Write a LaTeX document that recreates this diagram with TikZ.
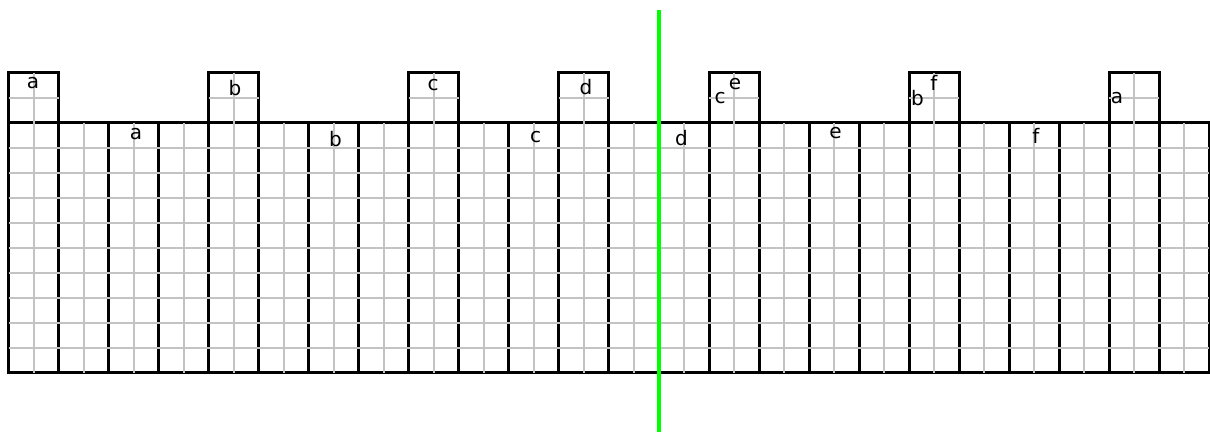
\documentclass[tikz,border=0pt]{standalone}
\usepackage{fontspec}
\setmainfont{DejaVu Sans}
\definecolor{gridgray}{RGB}{195,195,195}
\definecolor{pgreen}{RGB}{0,255,0}
\begin{document}
\begin{tikzpicture}[x=1pt,y=-1pt,
  blackline/.style={line width=3pt,draw=black},
  grayline/.style={line width=2pt,draw=gridgray},
  greenline/.style={line width=4.5pt,draw=pgreen},
  lbl/.style={inner sep=0pt,font=\fontsize{20}{20}\selectfont}]
\useasboundingbox (0,0) rectangle (1210,432);
\def\xo{8.5}
\def\dx{50.04}
% black body columns
\foreach \k in {0,...,23} {
  \pgfmathsetmacro\xa{\xo+\dx*\k}
  \pgfmathsetmacro\xb{\xo+\dx*(\k+1)}
  \draw[blackline] (\xa,122.5) rectangle (\xb,372.5);
}
% black tabs
\foreach \k in {0,4,8,11,14,18,22} {
  \pgfmathsetmacro\xa{\xo+\dx*\k}
  \pgfmathsetmacro\xb{\xo+\dx*(\k+1)}
  \draw[blackline] (\xa,72.5) rectangle (\xb,122.5);
}
% gray grid in body
\pgfmathsetmacro\xend{\xo+\dx*24}
\foreach \y in {147.5,172.5,...,347.5} {
  \draw[grayline] (\xo,\y) -- (\xend,\y);
}
\foreach \k in {0,...,23} {
  \pgfmathsetmacro\xm{\xo+\dx*\k+\dx/2}
  \draw[grayline] (\xm,122.5) -- (\xm,372.5);
}
% gray grid in tabs
\foreach \k in {0,4,8,11,14,18,22} {
  \pgfmathsetmacro\xa{\xo+\dx*\k}
  \pgfmathsetmacro\xb{\xo+\dx*(\k+1)}
  \pgfmathsetmacro\xm{\xo+\dx*\k+\dx/2}
  \draw[grayline] (\xa,97.5) -- (\xb,97.5);
  \draw[grayline] (\xm,72.5) -- (\xm,122.5);
}
% green line
\coordinate (gtop) at (659,10);
\coordinate (gbot) at (659,432);
\draw[greenline] (gtop) -- (gbot);
% labels in tabs
\node[lbl] (ta1) at (33,83) {a};
\node[lbl] (tb1) at (235,88) {b};
\node[lbl] (tc1) at (433,85.5) {c};
\node[lbl] (td1) at (586,87.5) {d};
\node[lbl] (te1) at (735,84.5) {e};
\node[lbl] (tc2) at (720,98) {c};
\node[lbl] (tf1) at (934,82.5) {f};
\node[lbl] (tb2) at (917.5,98) {b};
\node[lbl] (ta2) at (1117,98) {a};
% labels in body
\node[lbl] (ba) at (136,134.5) {a};
\node[lbl] (bb) at (335.5,139) {b};
\node[lbl] (bc) at (535.5,137) {c};
\node[lbl] (bd) at (681.5,138) {d};
\node[lbl] (be) at (835.5,133) {e};
\node[lbl] (bf) at (1036,135.5) {f};
\end{tikzpicture}
\end{document}
